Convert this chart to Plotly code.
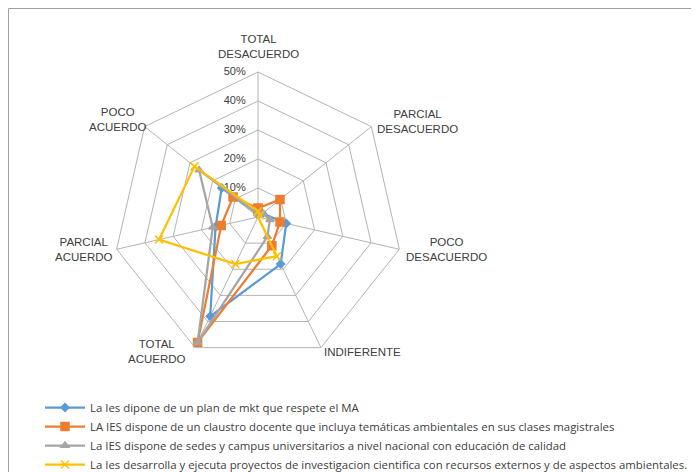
import plotly.graph_objects as go

categories = ["TOTAL DESACUERDO", "PARCIAL DESACUERDO", "POCO DESACUERDO",
              "INDIFERENTE", "TOTAL ACUERDO", "PARCIAL ACUERDO", "POCO ACUERDO"]

series_names = [
    "La Ies dipone de un plan de mkt que respete el MA",
    "LA IES dispone de un claustro docente que incluya temáticas ambientales en sus clases magistrales",
    "La IES dispone de sedes y campus universitarios a nivel nacional con educación de calidad",
    "La Ies desarrolla y ejecuta proyectos de investigacion cientifica con recursos externos y de aspectos ambientales.",
]

blue_vals = [0.01, 0.02, 0.10, 0.18, 0.38, 0.15, 0.16]
orange_vals = [0.03, 0.097, 0.078, 0.11, 0.48, 0.13, 0.11]
gray_vals = [0.01, 0.02, 0.042, 0.075, 0.48, 0.16, 0.26]
yellow_vals = [0.02, 0.01, 0.0, 0.15, 0.18, 0.35, 0.28]

radial_ticks = [0, 0.1, 0.2, 0.3, 0.4, 0.5]
radial_tick_labels = ["0%", "10%", "20%", "30%", "40%", "50%"]

# layout-only: pixel centres (in the browser window) of the category captions
label_pos = [(258, 46), (417, 121), (446, 249.5), (362, 352),
             (157, 351.5), (84, 249.5), (118, 119.5)]

colors = ["#5B9BD5", "#ED7D31", "#A5A5A5", "#FFC000"]
symbols = ["diamond", "square", "triangle-up", "x-thin"]
sizes = [6, 8, 7, 8]
all_vals = [blue_vals, orange_vals, gray_vals, yellow_vals]

fig = go.Figure()

# radial tick labels, placed by the polar scale on the top spoke, left of it
fig.add_trace(go.Scatterpolar(
    r=radial_ticks,
    theta=[categories[0]] * len(radial_ticks),
    mode="text",
    text=[t + "\u00a0" * 4 for t in radial_tick_labels],
    textposition="middle left",
    textfont=dict(size=11, color="#404040"),
    showlegend=False, hoverinfo="skip",
))

for name, vals, col, sym, sz in zip(series_names, all_vals, colors, symbols, sizes):
    fig.add_trace(go.Scatterpolar(
        r=vals + [vals[0]],
        theta=categories + [categories[0]],
        mode="lines+markers",
        name=name,
        line=dict(color=col, width=2.25),
        marker=dict(symbol=sym, size=sz, color=col,
                    line=dict(color=col, width=1.5)),
    ))

OFF = 8                      # browser body margin
W, H = 699 - OFF, 490        # figure taller than the window so the legend never pushes margins
cx, cy, R = 258 - OFF, 217 - OFF, 145

def px(x):
    return (x - OFF) / W

def py(y):
    return (H - (y - OFF)) / H

annotations = []
for cat, (lx, ly) in zip(categories, label_pos):
    annotations.append(dict(
        text=cat.replace(" ", "<br>"), xref="paper", yref="paper",
        x=px(lx), y=py(ly), xanchor="center", yanchor="middle",
        showarrow=False, align="center",
        font=dict(size=11.5, color="#404040"),
    ))

fig.update_layout(
    width=W, height=H,
    margin=dict(l=0, r=0, t=0, b=0),
    paper_bgcolor="white",
    plot_bgcolor="white",
    font=dict(family="Liberation Sans, Arial, sans-serif", color="#404040"),
    polar=dict(
        domain=dict(x=[(cx - R) / W, (cx + R) / W],
                    y=[(H - cy - R) / H, (H - cy + R) / H]),
        bgcolor="white",
        gridshape="linear",
        angularaxis=dict(
            direction="clockwise", rotation=90,
            showline=True, linecolor="#B4B4B4", linewidth=1,
            gridcolor="#B4B4B4", gridwidth=1,
            ticks="", showticklabels=False,
        ),
        radialaxis=dict(
            range=[0, 0.5], tickvals=radial_ticks,
            angle=90, showline=False, ticks="", showticklabels=False,
            gridcolor="#B4B4B4", gridwidth=1,
        ),
    ),
    showlegend=True,
    legend=dict(
        x=px(40), y=py(393), xanchor="left", yanchor="top",
        orientation="v",
        font=dict(family="Open Sans, sans-serif", size=11.4, color="#404040"),
        bgcolor="rgba(0,0,0,0)", itemwidth=40, tracegroupgap=0,
    ),
    annotations=annotations,
    shapes=[dict(type="rect", xref="paper", yref="paper",
                 x0=0.5 / W, x1=px(695), y0=-0.2, y1=(H - 0.5) / H,
                 line=dict(color="#A0A0A0", width=1), layer="below")],
)

fig.write_html("out.html")
